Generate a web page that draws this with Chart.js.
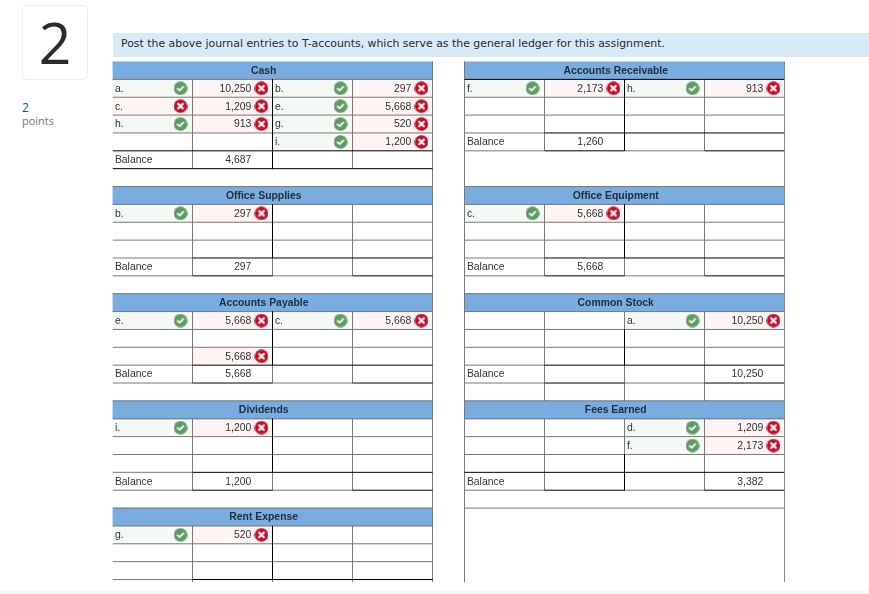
<!DOCTYPE html>
<html>
<head>
<meta charset="utf-8">
<script src="https://cdn.jsdelivr.net/npm/chart.js@4"></script>
<style>
    html, body { margin: 0; padding: 0; background: #fff; overflow: hidden; }
    body { width: 869px; height: 594px; position: relative; }
    #number-box {
        position: absolute; left: 22px; top: 5px; width: 64px; height: 73px;
        border: 1px solid #eeeeee; border-radius: 5px; text-align: center;
        font: 57px/73px "Open Sans", sans-serif; color: #2b2b2b;
    }
    #points { position: absolute; left: 22px; top: 101px; font: 11px/13px "Open Sans", sans-serif; color: #777; }
    #points b { display: block; font-weight: normal; font-size: 12px; color: #1b4f8c; }
    #question {
        position: absolute; left: 113px; top: 33px; width: 748px; height: 24px; padding-left: 8px;
        background: #d9eaf7; font: 10.9px/21px "DejaVu Sans", sans-serif; color: #2a2a2a;
    }
    #ledger { position: absolute; left: 100px; top: 50px; }
    #footer { position: absolute; left: 0; top: 591px; width: 869px; height: 3px; background: #f6f6f6; }
</style>
</head>
<body>
<div id="number-box">2</div>
<div id="points"><b>2</b>points</div>
<div id="question">Post the above journal entries to T-accounts, which serve as the general ledger for this assignment.</div>
<canvas id="ledger" width="700" height="540"></canvas>
<div id="footer"></div>
<script>
// Ledger data, one entry per account, left table / right table in turn
const accountNames = ['Cash', 'Accounts Receivable', 'Office Supplies', 'Office Equipment', 'Accounts Payable', 'Common Stock', 'Dividends', 'Fees Earned', 'Rent Expense'];
const debitLabels = [['a.', 'c.', 'h.'], ['f.'], ['b.'], ['c.'], ['e.', '', ''], [], ['i.'], [], ['g.']];
const debitAmounts = [[10250, 1209, 913], [2173], [297], [5668], [5668, null, 5668], [], [1200], [], [520]];
const creditLabels = [['b.', 'e.', 'g.', 'i.'], ['h.'], [], [], ['c.'], ['a.'], [], ['d.', 'f.'], []];
const creditAmounts = [[297, 5668, 520, 1200], [913], [], [], [5668], [10250], [], [1209, 2173], []];
const debitBalances = [4687, 1260, 297, 5668, 5668, null, 1200, null, null];
const creditBalances = [null, null, null, null, null, 10250, null, 3382, null];
// Only this label was marked wrong, every other label has a green check
const wrongLabels = ['Cash c.'];

// Table layout in column and row units
const tableStart = [0, 4.4];
const blockStart = [0, 7, 13, 19, 25];
const labelPad = 0.03;
const amountEnd = 0.735;
const labelMark = 0.85;
const amountMark = 0.862;
const headerCenter = 1.89;
const yMax = 524.5 / 18;

const greyLines = [];
const blackLines = [];
const headerBars = [];
const okCells = [];
const wrongCells = [];
const checks = [];
const crosses = [];
const cellTexts = [];

function addLine(list, x1, y1, x2, y2) {
    list.push({ x: x1, y: y1 }, { x: x2, y: y2 }, { x: null, y: null });
}

// Add one side of an account, col is the label column of that side
function addEntries(name, labels, amounts, col, firstRow) {
    const rows = Math.max(labels.length, amounts.length);
    for (let k = 0; k < rows; k++) {
        const y = firstRow + k + 0.5;
        if (labels[k]) {
            const wrong = wrongLabels.includes(name + ' ' + labels[k]);
            (wrong ? wrongCells : okCells).push({ x: [col, col + 1], y: y });
            (wrong ? crosses : checks).push({ x: col + labelMark, y: y });
            cellTexts.push({ text: labels[k], x: col + labelPad, y: y, align: 'left' });
        }
        if (amounts[k] !== null && amounts[k] !== undefined) {
            wrongCells.push({ x: [col + 1, col + 2], y: y });
            crosses.push({ x: col + 1 + amountMark, y: y });
            cellTexts.push({ text: amounts[k].toLocaleString('en-US'), x: col + 1 + amountEnd, y: y, align: 'right' });
        }
    }
}

accountNames.forEach((name, i) => {
    const left = tableStart[i % 2];
    const top = blockStart[Math.floor(i / 2)];
    const entryRows = name === 'Cash' ? 4 : 3;
    const first = top + 1;
    const balanceTop = first + entryRows;
    const balanceBottom = balanceTop + 1;
    const strongBalance = name === 'Cash' || name === 'Fees Earned';

    headerBars.push({ x: [left, left + 4], y: top + 0.5 });
    cellTexts.push({ text: name, x: left + headerCenter, y: top + 0.5, align: 'center', bold: true });
    if (top > 0) addLine(greyLines, left, top, left + 4, top);
    addLine(name === 'Accounts Receivable' ? blackLines : greyLines, left, first, left + 4, first);

    // Rules between the entry rows
    for (let k = 1; k < entryRows; k++) {
        addLine(greyLines, left, first + k, left + 4, first + k);
    }

    // The balance row has heavier rules under the amount columns
    addLine(strongBalance ? blackLines : greyLines, left, balanceTop, left + 1, balanceTop);
    addLine(blackLines, left + 1, balanceTop, left + 4, balanceTop);
    addLine(name === 'Cash' ? blackLines : greyLines, left, balanceBottom, left + 1, balanceBottom);
    addLine(blackLines, left + 1, balanceBottom, left + 2, balanceBottom);
    addLine(name === 'Cash' ? blackLines : greyLines, left + 2, balanceBottom, left + 3, balanceBottom);
    addLine(blackLines, left + 3, balanceBottom, left + 4, balanceBottom);

    // Column rules
    addLine(greyLines, left + 1, first, left + 1, balanceBottom);
    addLine(greyLines, left + 3, first, left + 3, balanceBottom);
    const softTop = name === 'Common Stock' ? 1 : name === 'Fees Earned' ? 2 : 0;
    if (softTop) addLine(greyLines, left + 2, first, left + 2, first + softTop);
    addLine(blackLines, left + 2, first + softTop, left + 2, balanceTop);
    const blackCenter = strongBalance || name === 'Accounts Receivable';
    addLine(blackCenter ? blackLines : greyLines, left + 2, balanceTop, left + 2, balanceBottom);

    // Extra empty rows under two of the accounts
    if (name === 'Common Stock') {
        [1, 2, 3].forEach(c => addLine(greyLines, left + c, balanceBottom, left + c, balanceBottom + 1));
    }
    if (name === 'Fees Earned') {
        addLine(greyLines, left, balanceBottom + 1, left + 4, balanceBottom + 1);
    }

    addEntries(name, debitLabels[i], debitAmounts[i], left, first);
    addEntries(name, creditLabels[i], creditAmounts[i], left + 2, first);

    if (debitBalances[i] !== null || creditBalances[i] !== null) {
        const y = balanceTop + 0.5;
        cellTexts.push({ text: 'Balance', x: left + labelPad, y: y, align: 'left' });
        if (debitBalances[i] !== null) {
            cellTexts.push({ text: debitBalances[i].toLocaleString('en-US'), x: left + 1 + amountEnd, y: y, align: 'right' });
        }
        if (creditBalances[i] !== null) {
            cellTexts.push({ text: creditBalances[i].toLocaleString('en-US'), x: left + 3 + amountEnd, y: y, align: 'right' });
        }
    }
});

// Outer table edges run the whole height of the page
addLine(greyLines, 4, 0, 4, yMax);
addLine(greyLines, 4.4, 0, 4.4, yMax);
addLine(greyLines, 8.4, 0, 8.4, yMax);

// Status icons used as point styles
function makeIcon(color, drawGlyph) {
    const icon = document.createElement('canvas');
    icon.width = 14;
    icon.height = 14;
    const c = icon.getContext('2d');
    c.fillStyle = color;
    c.beginPath();
    c.arc(7, 7, 6.8, 0, Math.PI * 2);
    c.fill();
    c.strokeStyle = '#fff';
    c.lineCap = 'round';
    c.lineJoin = 'round';
    c.beginPath();
    drawGlyph(c);
    c.stroke();
    return icon;
}

const checkIcon = makeIcon('#5f9a63', c => {
    c.lineWidth = 1.7;
    c.moveTo(4.1, 7.3);
    c.lineTo(6.2, 9.2);
    c.lineTo(9.9, 5.3);
});
const crossIcon = makeIcon('#bd1128', c => {
    c.lineWidth = 2.1;
    c.moveTo(4.7, 4.7);
    c.lineTo(9.3, 9.3);
    c.moveTo(9.3, 4.7);
    c.lineTo(4.7, 9.3);
});

// Text in the cells goes through the same scales as the marks
const cellTextPlugin = {
    id: 'cellText',
    afterDatasetsDraw(chart) {
        const ctx = chart.ctx;
        ctx.save();
        ctx.textBaseline = 'middle';
        cellTexts.forEach(t => {
            ctx.font = (t.bold ? 'bold ' : '') + '10.4px "Liberation Sans"';
            ctx.fillStyle = t.bold ? '#22303f' : '#333333';
            ctx.textAlign = t.align;
            ctx.fillText(t.text, chart.scales.x.getPixelForValue(t.x), chart.scales.y.getPixelForValue(t.y) + 0.5);
        });
        ctx.restore();
    }
};

function barSet(data, color) {
    return {
        type: 'bar', indexAxis: 'y', data: data, backgroundColor: color, borderWidth: 0,
        barThickness: 18, grouped: false, order: 3
    };
}

function lineSet(data, color, order) {
    return {
        type: 'line', data: data, borderColor: color, borderWidth: 1, pointRadius: 0,
        tension: 0, spanGaps: false, fill: false, order: order
    };
}

function markSet(data, icon) {
    return { type: 'scatter', data: data, pointStyle: icon, pointRadius: 7, order: 0 };
}

new Chart(document.getElementById('ledger').getContext('2d'), {
    type: 'scatter',
    data: {
        datasets: [
            barSet(headerBars, '#79acdf'),
            barSet(okCells, '#f5f9f5'),
            barSet(wrongCells, '#fef4f3'),
            lineSet(greyLines, '#7a7a7a', 2),
            lineSet(blackLines, '#000000', 1),
            markSet(checks, checkIcon),
            markSet(crosses, crossIcon)
        ]
    },
    options: {
        responsive: false,
        animation: false,
        events: [],
        layout: { padding: { left: 12.5, top: 11.5, right: 15.5, bottom: 4 } },
        plugins: { legend: { display: false }, tooltip: { enabled: false } },
        scales: {
            x: { type: 'linear', display: false, min: 0, max: 8.4, offset: false },
            y: { type: 'linear', display: false, min: 0, max: yMax, reverse: true, offset: false }
        }
    },
    plugins: [cellTextPlugin]
});
</script>
</body>
</html>
